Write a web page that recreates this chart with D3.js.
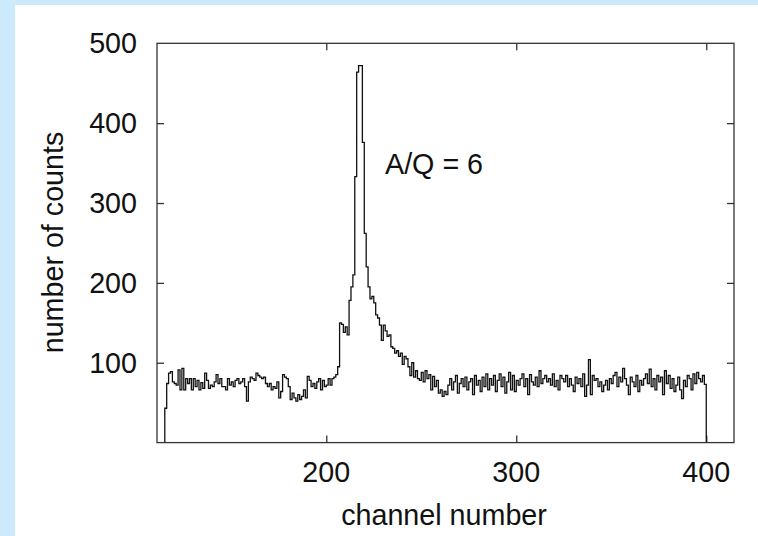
<html>
<head>
<meta charset="utf-8">
<title>channel spectrum</title>
<script src="https://cdnjs.cloudflare.com/ajax/libs/d3/7.8.5/d3.min.js"></script>
<style>
body, html{
  margin: 0;
  padding: 0;
  background: #cdeafd;
  overflow: hidden;
}
svg text{
  font-family: Arial, "Liberation Sans", sans-serif;
  fill: #111;
  font-size: 28.7px;
}
.axis line{
  stroke: #333;
  stroke-width: 1.3;
}
.axis path{
  display: none;
}
</style>
</head>
<body>
<div id="chart"></div>
<script type="text/javascript">

// first channel of the spectrum, one count value per channel after that
var firstChannel = 115
var lastEdge = 400
var counts = [
  43, 74, 87, 89, 76, 74, 72, 91, 66, 93,
  66, 80, 74, 80, 66, 80, 70, 78, 66, 75,
  68, 87, 78, 68, 72, 70, 76, 85, 74, 80,
  70, 70, 66, 80, 72, 76, 70, 78, 80, 74,
  76, 80, 70, 52, 76, 82, 80, 78, 87, 84,
  82, 80, 82, 74, 70, 74, 66, 70, 68, 76,
  56, 64, 85, 82, 80, 70, 54, 62, 56, 52,
  60, 54, 58, 66, 56, 83, 78, 70, 74, 68,
  76, 80, 66, 78, 70, 72, 80, 72, 80, 82,
  85, 95, 150, 148, 138, 145, 135, 178, 195, 210,
  333, 464, 472, 472, 376, 262, 220, 195, 180, 183,
  175, 160, 156, 147, 128, 147, 140, 133, 135, 120,
  118, 112, 115, 108, 112, 98, 108, 105, 95, 84,
  100, 82, 90, 80, 78, 88, 76, 90, 80, 85,
  66, 83, 70, 78, 62, 66, 58, 64, 60, 72,
  80, 66, 76, 84, 62, 74, 80, 70, 82, 66,
  76, 80, 60, 84, 72, 78, 64, 82, 70, 86,
  66, 80, 72, 84, 64, 78, 86, 70, 82, 62,
  76, 88, 66, 84, 64, 78, 72, 80, 86, 70,
  80, 60, 85, 76, 72, 82, 70, 90, 74, 80,
  84, 76, 80, 72, 86, 70, 78, 66, 84, 80,
  76, 84, 70, 80, 72, 64, 82, 74, 80, 70,
  86, 58, 72, 104, 60, 84, 78, 80, 70, 76,
  64, 72, 78, 66, 80, 74, 84, 88, 70, 82,
  76, 93, 80, 72, 60, 82, 76, 70, 84, 64,
  78, 72, 80, 86, 74, 92, 70, 80, 66, 84,
  76, 82, 60, 90, 74, 84, 68, 80, 64, 72,
  82, 66, 55, 78, 70, 84, 80, 66, 86, 74,
  88, 80, 76, 84, 73
]
var xTicks = [200, 300, 400]
var yTicks = [100, 200, 300, 400, 500]
var xLabel = "channel number"
var yLabel = "number of counts"
var note = "A/Q = 6"

var W = 758, H = 536

var svg = d3.select("#chart").append("svg")
  .attr("width", W)
  .attr("height", H)
  .style("display", "block")

// white page on the blue slide
svg.append("rect")
  .attr("x", 15).attr("y", 5)
  .attr("width", W - 15).attr("height", H - 5)
  .attr("fill", "#fff")

var pLeft = 157, pRight = 734, pTop = 43.3, pBottom = 442.6

var x = d3.scaleLinear().domain([110.9, 414.6]).range([pLeft, pRight])
var y = d3.scaleLinear().domain([0, 500]).range([pBottom, pTop])

// inward ticks on all four sides
svg.append("g").attr("class", "axis")
  .attr("transform", "translate(0," + pBottom + ")")
  .call(d3.axisBottom(x).tickValues(xTicks).tickSize(-7).tickFormat(""))
svg.append("g").attr("class", "axis")
  .attr("transform", "translate(0," + pTop + ")")
  .call(d3.axisTop(x).tickValues(xTicks).tickSize(-7).tickFormat(""))
svg.append("g").attr("class", "axis")
  .attr("transform", "translate(" + pLeft + ",0)")
  .call(d3.axisLeft(y).tickValues(yTicks.slice(0, 4)).tickSize(-7).tickFormat(""))
svg.append("g").attr("class", "axis")
  .attr("transform", "translate(" + pRight + ",0)")
  .call(d3.axisRight(y).tickValues(yTicks.slice(0, 4)).tickSize(-7).tickFormat(""))

// tick labels
svg.selectAll(".xlab")
  .data(xTicks)
  .enter().append("text")
    .attr("class", "xlab")
    .attr("x", function(d){ return x(d) })
    .attr("y", 481.7)
    .attr("text-anchor", "middle")
    .text(function(d){ return d })

svg.selectAll(".ylab")
  .data(yTicks)
  .enter().append("text")
    .attr("class", "ylab")
    .attr("x", 137)
    .attr("y", function(d){ return y(d) + 10 })
    .attr("text-anchor", "end")
    .text(function(d){ return d })

svg.append("text")
  .attr("x", (340 + 548) / 2)
  .attr("y", 525)
  .attr("text-anchor", "middle")
  .text(xLabel)

svg.append("text")
  .attr("transform", "translate(63,242.5) rotate(-90)")
  .attr("text-anchor", "middle")
  .text(yLabel)

svg.append("text")
  .attr("x", 385)
  .attr("y", 174)
  .text(note)

// histogram as a step line
var pts = [[firstChannel, 0]]
counts.forEach(function(v, i){ pts.push([firstChannel + i, v]) })
pts.push([lastEdge, counts[counts.length - 1]])
pts.push([lastEdge, 0])

var line = d3.line()
  .curve(d3.curveStepAfter)
  .x(function(d){ return x(d[0]) })
  .y(function(d){ return y(d[1]) })

svg.append("path")
  .attr("d", line(pts))
  .style("fill", "none")
  .style("stroke", "#111")
  .style("stroke-width", 1.3)

// frame
svg.append("rect")
  .attr("x", pLeft).attr("y", pTop)
  .attr("width", pRight - pLeft).attr("height", pBottom - pTop)
  .style("fill", "none")
  .style("stroke", "#333")
  .style("stroke-width", 1.3)

</script>
</body>
</html>
